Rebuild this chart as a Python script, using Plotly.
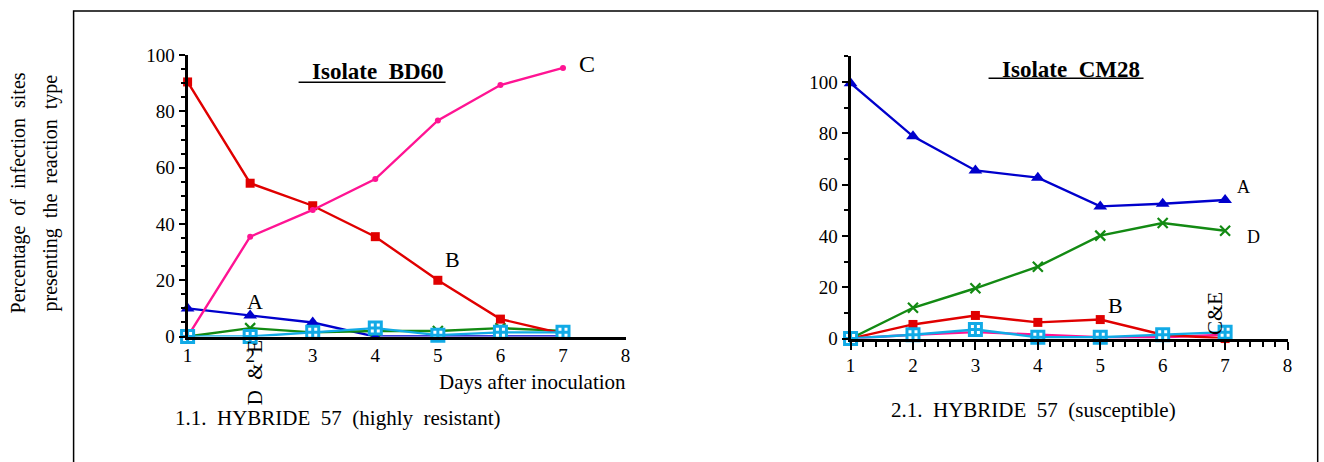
import plotly.graph_objects as go

W, H = 1324, 462
days = [1, 2, 3, 4, 5, 6, 7]

# Isolate BD60 (HYBRIDE 57, highly resistant)
bd_A = [10, 7.5, 5, 0, 0, 0, 0]
bd_B = [90.5, 54.5, 46.5, 35.5, 20, 6.2, 1]
bd_C = [0, 35.5, 45, 56, 76.8, 89.4, 95.5]
bd_D = [0, 3, 1.5, 2, 2, 3, 2]
bd_E = [0, 0, 1.5, 3, 0.5, 1.5, 1.5]

# Isolate CM28 (HYBRIDE 57, susceptible)
cm_A = [99.5, 78.8, 65.5, 62.7, 51.5, 52.5, 54]
cm_B = [0, 5.5, 9, 6.3, 7.4, 1.5, 0]
cm_C = [0, 1.5, 2.5, 1.5, 0.5, 0.5, 1.5]
cm_D = [0, 12, 19.6, 28, 40.1, 45, 42]
cm_E = [0, 1.5, 3.5, 0.5, 0.5, 1.5, 2.5]

FONT = "Liberation Serif"

# layout positions are measured on the target picture; map them to figure pixels
def fxp(r):
    return (r - 4.4) / 0.9925

def fyp(r):
    return (r - 11) / 0.95

def px(r):
    return min(max(fxp(r) / W, 0.0), 0.999)

def py(r):
    return 1 - fyp(r) / H

styles = {
    "A": dict(color="#0000cc", symbol="triangle-up", size=12),
    "D": dict(color="#138a13", symbol="x-thin-open", size=10),
    "B": dict(color="#e00000", symbol="square", size=9),
    "C": dict(color="#ff1493", symbol="circle", size=6),
    "E": dict(color="#11aae6", symbol="square-cross", size=12),
}

fig = go.Figure()

def add_series(vals, key, xa, ya):
    s = styles[key]
    if key == "E":
        marker = dict(symbol="square-cross", size=s["size"], color="white",
                      line=dict(color=s["color"], width=3))
    elif key == "D":
        marker = dict(symbol=s["symbol"], size=s["size"], color=s["color"],
                      line=dict(color=s["color"], width=2.2))
    else:
        marker = dict(symbol=s["symbol"], size=s["size"], color=s["color"],
                      line=dict(width=0))
    fig.add_trace(go.Scatter(x=days, y=vals, mode="lines+markers",
                             line=dict(color=s["color"], width=2.4),
                             marker=marker, xaxis=xa, yaxis=ya,
                             cliponaxis=False, showlegend=False, hoverinfo="skip"))

for vals, key in [(bd_A, "A"), (bd_D, "D"), (bd_B, "B"), (bd_C, "C"), (bd_E, "E")]:
    add_series(vals, key, "x", "y")
for vals, key in [(cm_C, "C"), (cm_B, "B"), (cm_D, "D"), (cm_A, "A"), (cm_E, "E")]:
    add_series(vals, key, "x2", "y2")

tickfont = dict(family=FONT, size=19, color="black")

fig.update_layout(
    width=W, height=H, margin=dict(l=0, r=0, t=0, b=0),
    paper_bgcolor="white", plot_bgcolor="rgba(0,0,0,0)",
    xaxis=dict(domain=[px(187), px(625)], range=[1, 8], anchor="y",
               showgrid=False, zeroline=False, showline=True, linecolor="black", linewidth=3,
               tickmode="array", tickvals=[1, 2, 3, 4, 5, 6, 7, 8],
               ticks="", tickfont=tickfont),
    yaxis=dict(domain=[py(336), py(56)], range=[0, 100], anchor="x",
               showgrid=False, zeroline=False, showline=True, linecolor="black", linewidth=3,
               tickvals=[0, 20, 40, 60, 80, 100], ticks="outside", ticklen=6, tickwidth=2,
               tickcolor="black", tickfont=tickfont,
               minor=dict(dtick=5, ticks="outside", ticklen=4, tickwidth=2, tickcolor="black")),
    xaxis2=dict(domain=[px(850), px(1287)], range=[1, 8], anchor="y2",
                showgrid=False, zeroline=False, showline=True, linecolor="black", linewidth=3,
                tickvals=[1, 2, 3, 4, 5, 6, 7, 8], ticks="outside", ticklen=8, tickwidth=2,
                tickcolor="black", tickfont=tickfont,
                minor=dict(dtick=0.2, ticks="outside", ticklen=5, tickwidth=2, tickcolor="black")),
    yaxis2=dict(domain=[py(338), py(57)], range=[0, 110], anchor="x2",
                showgrid=False, zeroline=False, showline=True, linecolor="black", linewidth=3,
                tickvals=[0, 20, 40, 60, 80, 100], ticks="outside", ticklen=6, tickwidth=2,
                tickcolor="black", tickfont=tickfont,
                minor=dict(dtick=10, ticks="outside", ticklen=4, tickwidth=2, tickcolor="black")),
)

annots = []

def paper_text(text, x, y, size, xanchor="center", angle=0, bold=False):
    t = f"<b>{text}</b>" if bold else text
    annots.append(dict(text=t, x=px(x), y=py(y), xref="paper", yref="paper",
                       xanchor=xanchor, yanchor="middle", showarrow=False, textangle=angle,
                       font=dict(family=FONT, size=size, color="black")))

def data_text(text, x, y, xa, ya, size=22, angle=0):
    annots.append(dict(text=text, x=x, y=y, xref=xa, yref=ya, xanchor="center",
                       yanchor="middle", showarrow=False, textangle=angle,
                       font=dict(family=FONT, size=size, color="black")))

NB = "\u00a0"
paper_text("Percentage" + NB + " of" + NB + " infection" + NB + " sites", 18, 193, 20, angle=-90)
paper_text("presenting" + NB + " the" + NB + " reaction" + NB + " type", 50, 193, 20, angle=-90)
paper_text("Isolate" + NB + " BD60", 377, 72, 23, bold=True)
paper_text("Isolate" + NB + " CM28", 1070, 70, 23, bold=True)
paper_text("Days after inoculation", 627, 381, 21, xanchor="right")
paper_text("1.1." + NB + " HYBRIDE" + NB + " 57" + NB + " (highly" + NB + " resistant)", 172, 417, 21, xanchor="left")
paper_text("2.1." + NB + " HYBRIDE" + NB + " 57" + NB + " (susceptible)", 1033, 409, 21)
paper_text("D" + NB + " &" + NB + " E", 254, 372, 21, angle=-90)
paper_text("C&E", 1215, 313, 21, angle=-90)

data_text("A", 2.07, 12.5, "x", "y")
data_text("B", 5.24, 27.5, "x", "y")
data_text("C", 7.38, 96.8, "x", "y", size=24)
data_text("A", 7.3, 59, "x2", "y2", size=18)
data_text("D", 7.46, 39.5, "x2", "y2", size=18)
data_text("B", 5.24, 12.8, "x2", "y2")

fig.update_layout(annotations=annots)

shapes = [
    dict(type="rect", xref="paper", yref="paper", x0=px(73), x1=px(1318),
         y0=-0.1, y1=min(py(10), 0.998),
         line=dict(color="black", width=1.5), fillcolor="rgba(0,0,0,0)", layer="below"),
    dict(type="line", xref="paper", yref="paper", x0=px(298), x1=px(445), y0=py(83), y1=py(83),
         line=dict(color="black", width=1.5)),
    dict(type="line", xref="paper", yref="paper", x0=px(988), x1=px(1143), y0=py(79), y1=py(79),
         line=dict(color="black", width=1.5)),
]
fig.update_layout(shapes=shapes)

fig.write_html(
    "out.html",
    config={"displayModeBar": False},
    post_script="document.body.style.margin='0';document.body.style.padding='0';"
                "document.documentElement.style.overflow='hidden';",
)
